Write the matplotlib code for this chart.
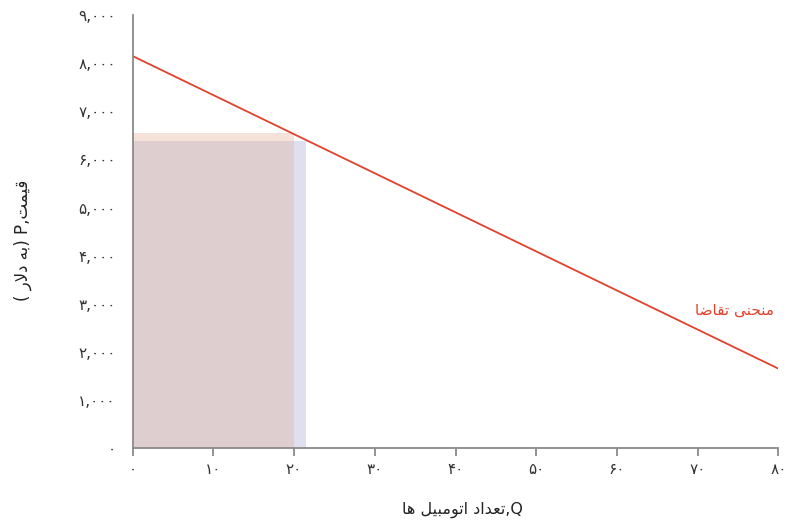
import matplotlib
matplotlib.use("Agg")
import matplotlib.pyplot as plt
from matplotlib.patches import Rectangle

# demand curve end points (Q, P)
demand_q = [0, 80]
demand_p = [8150, 1650]

# shaded revenue boxes: (width Q, height P)
box_blue = (21.5, 6380)
box_orange = (20, 6550)

x_ticks = [0, 10, 20, 30, 40, 50, 60, 70, 80]
y_ticks = [0, 1000, 2000, 3000, 4000, 5000, 6000, 7000, 8000, 9000]

fa_digits = str.maketrans("0123456789", "\u06f0\u06f1\u06f2\u06f3\u06f4\u06f5\u06f6\u06f7\u06f8\u06f9")

# persian labels, written in visual order with presentation forms
# "قیمت,P (به دلار )"
ylab = "( \ufead\ufefb\ufea9 \ufeea\ufe91) P,\ufe96\ufee4\ufef4\ufed7"
# "تعداد اتومبیل ها,Q"
xlab = "\ufe8e\ufeeb \ufede\ufef4\ufe92\ufee3\ufeee\ufe97\ufe8d \ufea9\ufe8d\ufeaa\ufecc\ufe97,Q"
# "منحنی تقاضا"
demand_lab = "\ufe8e\ufebf\ufe8e\ufed8\ufe97 \ufef0\ufee8\ufea4\ufee8\ufee3"

red = "#e2412b"
gray = "#8a8a8a"

fig = plt.figure(figsize=(8.1, 5.21), dpi=100)
ax = fig.add_axes([0.1636, 0.140, 0.7975, 0.831])

ax.add_patch(Rectangle((0, 0), box_blue[0], box_blue[1], facecolor="#dee0ef", edgecolor="none"))
ax.add_patch(Rectangle((0, 0), box_orange[0], box_orange[1], facecolor="#e0a585", alpha=0.3, edgecolor="none"))

ax.plot(demand_q, demand_p, color=red, lw=1.3)
ax.text(74.5, 2860, demand_lab, color=red, fontsize=11, ha="center", va="center")

ax.set_xlim(0, 80)
ax.set_ylim(0, 9000)
ax.set_xticks(x_ticks)
ax.set_xticklabels([str(v).translate(fa_digits) for v in x_ticks])
ax.set_yticks(y_ticks)
ax.set_yticklabels([f"{v:,}".translate(fa_digits) for v in y_ticks])

for s in ["top", "right"]:
    ax.spines[s].set_visible(False)
for s in ["left", "bottom"]:
    ax.spines[s].set_color(gray)
    ax.spines[s].set_linewidth(1.3)

ax.tick_params(axis="x", direction="out", length=6, width=1.3, color=gray, pad=4, labelsize=11, labelcolor="#333333")
ax.tick_params(axis="y", length=0, pad=12, labelsize=11, labelcolor="#333333")

ax.set_xlabel(xlab, fontsize=11.5, color="#222222")
ax.set_ylabel(ylab, fontsize=12, color="#222222")
ax.xaxis.set_label_coords(0.51, -0.125)
ax.yaxis.set_label_coords(-0.155, 0.48)

fig.savefig("out.png", dpi=100)
